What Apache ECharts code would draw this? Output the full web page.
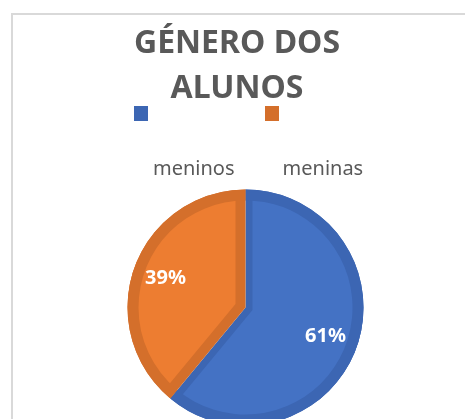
<!DOCTYPE html>
<html>
<head>
<meta charset="utf-8">
<script src="https://cdn.jsdelivr.net/npm/echarts@6/dist/echarts.min.js"></script>
<style>
  html, body { margin: 0; padding: 0; background: #fff; }
  #chart { width: 465px; height: 419px; }
</style>
</head>
<body>
<div id="chart"></div>
<script>
// data
const categories = ['meninos', 'meninas'];
const shares = [61, 39];
const titleText = 'GÉNERO DOS\nALUNOS';

// styling
const fillColors = ['#4472C4', '#ED7D31'];
const edgeColors = ['#3C66B3', '#D46F2B'];
const insets = [7, 10];      // dark border width on the straight edges
const ringWidth = 11;        // dark border on the curved edge
const pieCenter = [245.5, 307.5];
const pieRadius = 118;
const font = 'Noto Sans';

const chart = echarts.init(document.getElementById('chart'));

// each light wedge is moved along its bisector so that its straight edges sit
// "insets" px inside the dark wedge below it
const total = shares.reduce((a, b) => a + b, 0);
let cum = 0;
const lightSeries = shares.map((v, i) => {
  const mid = (90 - 360 * (cum + v / 2) / total) * Math.PI / 180;
  const half = (180 * v / total) * Math.PI / 180;
  cum += v;
  const d = insets[i] / Math.sin(half);
  return {
    type: 'pie',
    silent: true,
    center: [pieCenter[0] + d * Math.cos(mid), pieCenter[1] - d * Math.sin(mid)],
    radius: [0, pieRadius - d],
    startAngle: 90,
    label: { show: false },
    labelLine: { show: false },
    itemStyle: { borderWidth: 0 },
    data: categories.map((name, j) => ({
      name: name,
      value: shares[j],
      itemStyle: { color: fillColors[j], opacity: j === i ? 1 : 0 }
    }))
  };
});

const darkData = categories.map((name, i) => ({
  name: name, value: shares[i], itemStyle: { color: edgeColors[i] }
}));

const option = {
  animation: false,
  backgroundColor: '#fff',
  graphic: [{
    type: 'rect',
    shape: { x: 12, y: 14, width: 470, height: 430 },
    style: { fill: 'none', stroke: '#d9d9d9', lineWidth: 2 },
    silent: true
  }],
  title: {
    text: titleText,
    left: 232,
    top: 16,
    textAlign: 'center',
    padding: 5,
    textStyle: {
      fontFamily: font,
      fontSize: 32,
      fontWeight: 'bold',
      color: '#595959',
      lineHeight: 45
    }
  },
  legend: [{
    // squares only
    left: 129,
    top: 101,
    itemWidth: 14,
    itemHeight: 15,
    itemGap: 117,
    icon: 'rect',
    selectedMode: false,
    formatter: () => '',
    data: categories.map((name, i) => ({ name: name, itemStyle: { color: edgeColors[i] } }))
  }, {
    // names only
    left: 143,
    top: 154,
    itemWidth: 0,
    itemHeight: 0,
    itemGap: 43,
    icon: 'rect',
    selectedMode: false,
    textStyle: { fontFamily: font, fontSize: 20, color: '#595959' },
    data: categories.map(name => ({ name: name, itemStyle: { opacity: 0 } }))
  }],
  series: [{
    type: 'pie',
    silent: true,
    center: pieCenter,
    radius: [0, pieRadius],
    startAngle: 90,
    label: { show: false },
    labelLine: { show: false },
    itemStyle: { borderWidth: 0 },
    data: darkData
  },
  ...lightSeries,
  {
    type: 'pie',
    silent: true,
    center: pieCenter,
    radius: [pieRadius - ringWidth, pieRadius],
    startAngle: 90,
    label: { show: false },
    labelLine: { show: false },
    itemStyle: { borderWidth: 0 },
    data: darkData
  }, {
    // percentage labels
    type: 'pie',
    silent: true,
    center: pieCenter,
    radius: [46, pieRadius],
    startAngle: 90,
    itemStyle: { color: 'transparent', borderWidth: 0 },
    labelLine: { show: false },
    label: {
      show: true,
      position: 'inside',
      formatter: p => Math.round(p.percent) + '%',
      fontFamily: font,
      fontSize: 20,
      fontWeight: 'bold',
      color: '#fff'
    },
    data: categories.map((name, i) => ({ name: name, value: shares[i] }))
  }]
};

chart.setOption(option);
</script>
</body>
</html>
